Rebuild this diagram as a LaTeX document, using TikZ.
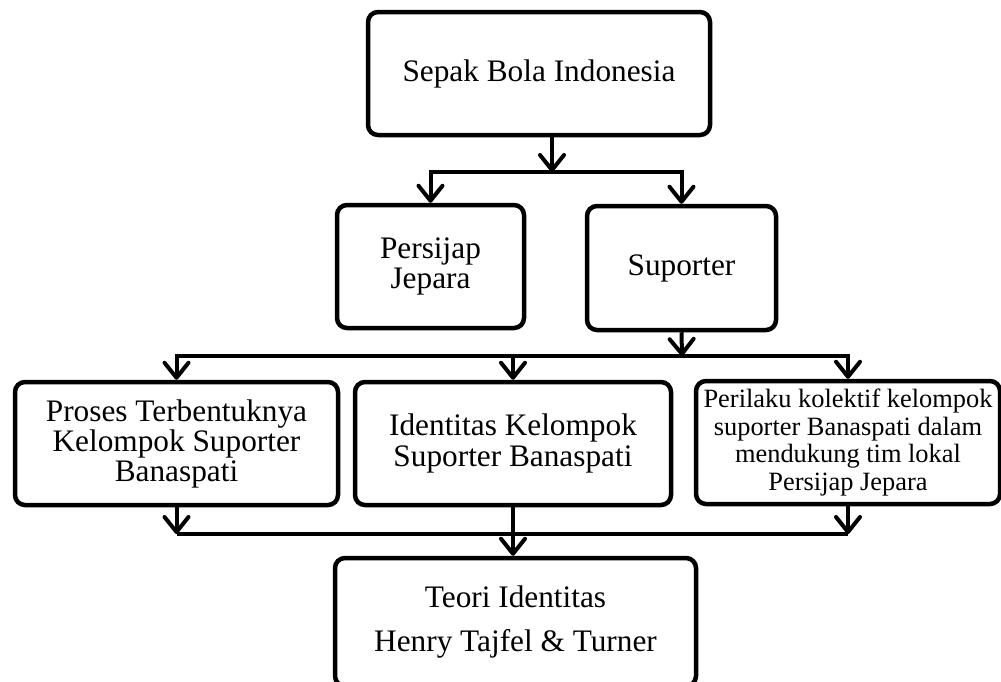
\documentclass[tikz,border=0pt]{standalone}
\usepackage{fontspec}
\setmainfont{Liberation Serif}
\usetikzlibrary{arrows.meta}
\tikzset{
  box/.style={draw=black, line width=4.5pt, rounded corners=10pt, align=center,
    inner sep=0pt, font=\fontsize{31.3pt}{30pt}\selectfont, text=black},
  conn/.style={draw=black, line width=4pt},
  arr/.style={conn, -{Straight Barb[length=15pt,width=24pt,round]}}
}
\begin{document}
\begin{tikzpicture}[x=1pt,y=-1pt]
\useasboundingbox (0,0) rectangle (1001,681);
\node[box, minimum width=342pt, minimum height=123pt] (top) at (539,73.5) {Sepak Bola Indonesia};
\node[box, minimum width=187pt, minimum height=123pt] (persijap) at (430.5,266.5) {Persijap\\Jepara};
\node[box, minimum width=189pt, minimum height=124pt] (suporter) at (681.5,268) {Suporter};
\node[box, minimum width=323pt, minimum height=123pt] (proses) at (176.5,443.5) {Proses Terbentuknya\\Kelompok Suporter\\Banaspati};
\node[box, minimum width=316pt, minimum height=123pt, font=\fontsize{31.3pt}{31pt}\selectfont] (identitas) at (513,443.5) {Identitas Kelompok\\Suporter Banaspati};
\node[box, minimum width=304pt, minimum height=123pt, font=\fontsize{26.4pt}{27.7pt}\selectfont] (perilaku) at (848,442.5) {Perilaku kolektif kelompok\\suporter Banaspati dalam\\mendukung tim lokal\\Persijap Jepara};
\node[box, minimum width=361pt, minimum height=128pt, font=\fontsize{31.3pt}{44pt}\selectfont] (teori) at (515.5,622) {Teori Identitas\\Henry Tajfel \& Turner};

\coordinate (j1) at (552,172);
\coordinate (j2) at (682,356);
\coordinate (j3) at (513,534);

\draw[arr] (top.south -| j1) -- (j1);
\draw[arr] (j1) -| (persijap.north);
\draw[arr] (j1) -| (suporter.north);

\draw[arr] (suporter.south) -- (j2);
\draw[arr] (j2) -| (proses.north);
\draw[arr] (j2) -| (identitas.north);
\draw[arr] (j2) -| (perilaku.north);

\draw[conn] (proses.south |- j3) -- (perilaku.south |- j3);
\draw[arr] (proses.south) -- (proses.south |- j3);
\draw[arr] (perilaku.south) -- (perilaku.south |- j3);
\draw[arr] (identitas.south) -- (identitas.south |- teori.north);
\end{tikzpicture}
\end{document}
